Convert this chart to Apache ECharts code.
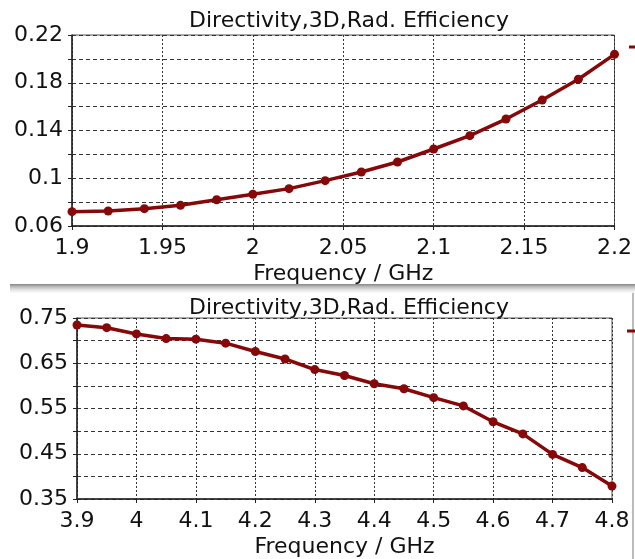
<!DOCTYPE html>
<html>
<head>
<meta charset="utf-8">
<script src="https://cdn.jsdelivr.net/npm/echarts@6/dist/echarts.min.js"></script>
<style>
  html, body { margin: 0; padding: 0; background: #fff; }
  #chart { width: 635px; height: 559px; }
</style>
</head>
<body>
<div id="chart"></div>
<script>
    // 1.9 - 2.2 GHz band
    const freqLow = [1.9, 1.92, 1.94, 1.96, 1.98, 2.0, 2.02, 2.04, 2.06, 2.08, 2.1, 2.12, 2.14, 2.16, 2.18, 2.2];
    const effLow = [0.072, 0.0726, 0.0745, 0.0773, 0.082, 0.0866, 0.0913, 0.098, 0.1052, 0.1136, 0.1245, 0.1357, 0.1496, 0.1655, 0.1829, 0.2038];
    // 3.9 - 4.8 GHz band
    const freqHigh = [3.9, 3.95, 4.0, 4.05, 4.1, 4.15, 4.2, 4.25, 4.3, 4.35, 4.4, 4.45, 4.5, 4.55, 4.6, 4.65, 4.7, 4.75, 4.8];
    const effHigh = [0.7345, 0.7286, 0.7148, 0.7045, 0.7032, 0.6944, 0.676, 0.6594, 0.636, 0.6229, 0.6047, 0.5937, 0.574, 0.5557, 0.5207, 0.4938, 0.4485, 0.4194, 0.3785];

    const titleText = 'Directivity,3D,Rad. Efficiency';
    const xName = 'Frequency / GHz';
    const lineColor = '#870808';
    const font = 'DejaVu Sans';

    const myChart = echarts.init(document.getElementById('chart'));

    // only every other gridline gets a label
    function everyOther(min, step) {
        return function (v) {
            const k = Math.round((v - min) / step);
            return k % 2 === 0 ? String(+v.toFixed(3)) : '';
        };
    }

    function xAxisOf(gridIndex, min, max, interval) {
        return {
            type: 'value', gridIndex: gridIndex, min: min, max: max, interval: interval,
            name: xName, nameLocation: 'middle', nameGap: 37,
            nameTextStyle: { fontFamily: font, fontSize: 22, color: '#111' },
            axisLine: { lineStyle: { color: '#222', width: 1.5 } },
            axisTick: { show: true, length: 4, lineStyle: { color: '#222' } },
            axisLabel: { fontFamily: font, fontSize: 22, color: '#111', margin: 11,
                formatter: function (v) { return String(+v.toFixed(3)); } },
            splitLine: { show: true, lineStyle: { color: '#333', type: [2, 2], width: 1 } }
        };
    }

    function yAxisOf(gridIndex, min, max, interval) {
        return {
            type: 'value', gridIndex: gridIndex, min: min, max: max, interval: interval,
            axisLine: { show: true, lineStyle: { color: '#222', width: 1.5 } },
            axisTick: { show: true, length: 4, lineStyle: { color: '#222' } },
            axisLabel: { fontFamily: font, fontSize: 22, color: '#111', margin: 9,
                formatter: everyOther(min, interval) },
            splitLine: { show: true, lineStyle: { color: '#333', type: [4, 3], width: 1 } }
        };
    }

    function seriesOf(name, idx, xs, ys) {
        return {
            name: name, type: 'line', xAxisIndex: idx, yAxisIndex: idx,
            data: xs.map(function (x, i) { return [x, ys[i]]; }),
            symbol: 'circle', symbolSize: 9, showSymbol: true,
            lineStyle: { color: lineColor, width: 3.5 },
            itemStyle: { color: lineColor },
            animation: false
        };
    }

    const option = {
        backgroundColor: '#fff',
        animation: false,
        title: [
            { text: titleText, left: 344, top: 5, textAlign: 'center',
              textStyle: { fontFamily: font, fontSize: 22, fontWeight: 'normal', color: '#111' } },
            { text: titleText, left: 344, top: 292, textAlign: 'center',
              textStyle: { fontFamily: font, fontSize: 22, fontWeight: 'normal', color: '#111' } }
        ],
        legend: [
            { data: ['Rad. Efficiency (low)'], left: 624, top: 36, icon: 'rect', itemWidth: 20, itemHeight: 3,
              textStyle: { fontSize: 12 } },
            { data: ['Rad. Efficiency (high)'], left: 622, top: 320, icon: 'rect', itemWidth: 20, itemHeight: 3,
              textStyle: { fontSize: 12 } }
        ],
        grid: [
            { left: 72, top: 35, width: 544, height: 191, show: true, borderColor: '#555', borderWidth: 1 },
            { left: 77, top: 318, width: 535, height: 183, show: true, borderColor: '#555', borderWidth: 1 }
        ],
        xAxis: [
            xAxisOf(0, 1.9, 2.2, 0.05),
            xAxisOf(1, 3.9, 4.8, 0.1)
        ],
        yAxis: [
            yAxisOf(0, 0.06, 0.22, 0.02),
            yAxisOf(1, 0.35, 0.75, 0.05)
        ],
        series: [
            seriesOf('Rad. Efficiency (low)', 0, freqLow, effLow),
            seriesOf('Rad. Efficiency (high)', 1, freqHigh, effHigh)
        ],
        graphic: [
            // soft shadow between the two panels
            { type: 'rect', left: 10, top: 284, z: -1, silent: true,
              shape: { width: 625, height: 9 },
              style: { fill: new echarts.graphic.LinearGradient(0, 0, 0, 1, [
                  { offset: 0, color: 'rgba(120,120,120,0.9)' },
                  { offset: 1, color: 'rgba(230,230,230,0.2)' }
              ]) } },
            { type: 'rect', left: 632, top: 293, z: -1, silent: true,
              shape: { width: 2, height: 266 }, style: { fill: '#bbb' } }
        ]
    };
    myChart.setOption(option);
</script>
</body>
</html>
